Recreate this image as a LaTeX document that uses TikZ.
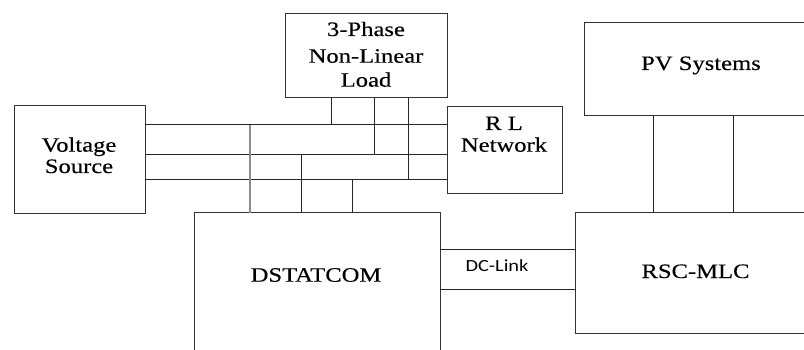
\documentclass[tikz,border=0pt]{standalone}
\usepackage{fontspec}
\setmainfont{Liberation Serif}[FakeStretch=1.2,FakeBold=0.25]
\newfontfamily\dcfont{Carlito}[FakeStretch=1.2]
\begin{document}
\begin{tikzpicture}[x=1pt,y=-1pt,
  box/.style={draw=black!80, line width=1pt, inner sep=0pt, outer sep=0pt, anchor=north west},
  wire/.style={draw=black!85, line width=1pt},
  graywire/.style={draw=black!45, line width=1.5pt},
  lbl/.style={anchor=base, inner sep=0pt, text=black, font=\fontsize{20.5}{21.5}\selectfont},
  dclbl/.style={anchor=base, inner sep=0pt, text=black, font=\dcfont\fontsize{17}{20}\selectfont}
]
\useasboundingbox (0,0) rectangle (804,350);
\clip (0,0) rectangle (804,350);
% boxes
\node[box, minimum width=131pt, minimum height=108pt] (vs) at (14,106) {};
\node[box, minimum width=162pt, minimum height=84pt] (load) at (285,14) {};
\node[box, minimum width=115pt, minimum height=87pt] (rl) at (447,107) {};
\node[box, minimum width=246pt, minimum height=150pt] (dst) at (194,213) {};
\node[box, minimum width=240pt, minimum height=120pt] (rsc) at (575,213) {};
\node[box, minimum width=230pt, minimum height=93pt] (pv) at (584,23) {};
% labels
\node[lbl] (vs1) at (79,151.7) {Voltage};
\node[lbl] (vs2) at (79,173) {Source};
\node[lbl] (ld1) at (366,36) {3-Phase};
\node[lbl] (ld2) at (366,62.7) {Non-Linear};
\node[lbl] (ld3) at (366,86.7) {Load};
\node[lbl] (rl1) at (504,130) {R L};
\node[lbl] (rl2) at (504,151.7) {Network};
\node[lbl] (dstl) at (316,281.7) {DSTATCOM};
\node[dclbl] (dcl) at (497,271.7) {DC-Link};
\node[lbl] (pvl) at (701,70) {PV Systems};
\node[lbl] (rscl) at (695.5,278) {RSC-MLC};
% junction coordinates on the buses
\coordinate (ja) at (250,125);
\coordinate (jb) at (301,155);
\coordinate (jc) at (352,180);
\coordinate (ka) at (331,125);
\coordinate (kb) at (374,155);
\coordinate (kc) at (408,180);
\coordinate (ya) at (0,125);
\coordinate (yb) at (0,155);
\coordinate (yc) at (0,180);
\coordinate (da) at (0,249);
\coordinate (db) at (0,289);
\coordinate (pa) at (653,0);
\coordinate (pb) at (733,0);
% bus lines
\draw[wire] (vs.east |- ya) -- (rl.west |- ya);
\draw[wire] (vs.east |- yb) -- (rl.west |- yb);
\draw[wire] (vs.east |- yc) -- (rl.west |- yc);
% verticals to DSTATCOM
\draw[graywire] (ja) -- (dst.north -| ja);
\draw[wire] (jb) -- (dst.north -| jb);
\draw[wire] (jc) -- (dst.north -| jc);
% verticals from load
\draw[wire] (load.south -| ka) -- (ka);
\draw[wire] (load.south -| kb) -- (kb);
\draw[wire] (load.south -| kc) -- (kc);
% DC link
\draw[wire] (dst.east |- da) -- (rsc.west |- da);
\draw[wire] (dst.east |- db) -- (rsc.west |- db);
% PV to RSC
\draw[wire] (pv.south -| pa) -- (rsc.north -| pa);
\draw[wire] (pv.south -| pb) -- (rsc.north -| pb);
\end{tikzpicture}
\end{document}
